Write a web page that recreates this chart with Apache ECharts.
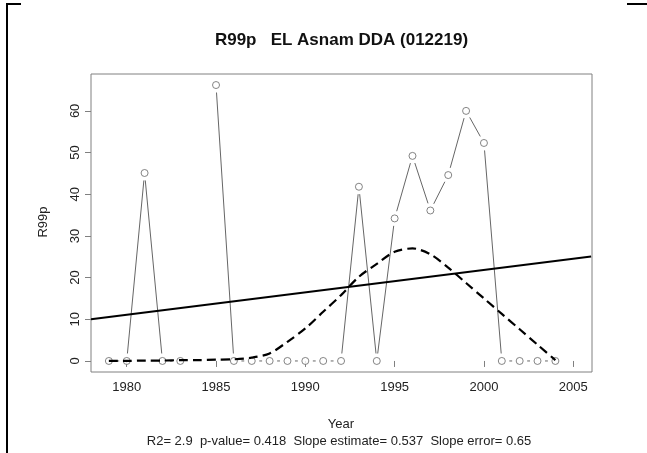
<!DOCTYPE html>
<html>
<head>
<meta charset="utf-8">
<script src="https://cdn.jsdelivr.net/npm/echarts@6/dist/echarts.min.js"></script>
<style>
html,body{margin:0;padding:0;background:#fff;}
#chart{width:647px;height:453px;}
</style>
</head>
<body>
<div id="chart"></div>
<script>
// ---- data ----
const years = [1979,1980,1981,1982,1983,1984,1985,1986,1987,1988,1989,1990,1991,1992,1993,1994,1995,1996,1997,1998,1999,2000,2001,2002,2003,2004];
const r99p = [0,0,45.1,0,0,null,66.2,0,0,0,0,0,0,0,41.8,0,34.2,49.2,36.1,44.6,60.0,52.3,0,0,0,0];
const smoothVals = [0.0,0.0,0.1,0.1,0.2,0.2,0.3,0.4,0.8,1.8,4.6,7.8,11.8,15.8,20.2,23.3,26.2,27.0,25.6,22.4,18.7,15.0,11.3,7.6,3.9,0.2];
const trendX = [1978, 2006];
const trendY = [10.0, 25.04];
const xTicks = [1980,1985,1990,1995,2000,2005];
const yTicks = [0,10,20,30,40,50,60];
const titleText = 'R99p   EL Asnam DDA (012219)';
const xName = 'Year';
const yName = 'R99p';
const statsText = 'R2= 2.9  p-value= 0.418  Slope estimate= 0.537  Slope error= 0.65';

const FONT = '"Liberation Sans", Arial, sans-serif';

const points = [];
years.forEach((y,i)=>{ if(r99p[i]!==null) points.push([y, r99p[i]]); });
const segs = [];
for(let i=0;i<years.length-1;i++){
  if(r99p[i]!==null && r99p[i+1]!==null) segs.push([years[i], r99p[i], years[i+1], r99p[i+1]]);
}
const smoothData = years.map((y,i)=>[y, smoothVals[i]]);
const trendData = trendX.map((x,i)=>[x, trendY[i]]);

const chart = echarts.init(document.getElementById('chart'), null, {renderer:'canvas'});
const GAP = 7.5;
chart.setOption({
  animation:false,
  backgroundColor:'#fff',
  grid:{left:91, top:74, right:55, bottom:81, show:true, borderColor:'#808080', borderWidth:1, backgroundColor:'transparent'},
  xAxis:{
    type:'value', min:1978, max:2006.05,
    axisLine:{show:false},
    splitLine:{show:false},
    axisTick:{show:true, length:6, lineStyle:{color:'#808080'}, customValues:xTicks},
    axisLabel:{color:'#222', fontSize:13, fontFamily:FONT, margin:9, customValues:xTicks, formatter:function(v){return String(v);}}
  },
  yAxis:{
    type:'value', min:-2.65, max:68.85,
    axisLine:{show:false},
    splitLine:{show:false},
    axisTick:{show:true, length:6, lineStyle:{color:'#808080'}, customValues:yTicks},
    axisLabel:{color:'#222', fontSize:13, fontFamily:FONT, margin:9, rotate:90, customValues:yTicks, formatter:function(v){return String(v);}}
  },
  graphic:[
    {type:'text', x:341.5, y:40, style:{text:titleText, font:'bold 17px '+FONT, fill:'#111', textAlign:'center', textVerticalAlign:'middle'}},
    {type:'text', x:341, y:424, style:{text:xName, font:'13px '+FONT, fill:'#222', textAlign:'center', textVerticalAlign:'middle'}},
    {type:'text', x:339, y:441, style:{text:statsText, font:'13px '+FONT, fill:'#222', textAlign:'center', textVerticalAlign:'middle'}},
    {type:'text', x:43, y:222, rotation:Math.PI/2, style:{text:yName, font:'13px '+FONT, fill:'#222', textAlign:'center', textVerticalAlign:'middle'}},
    {type:'line', shape:{x1:7, y1:4, x2:7, y2:453}, style:{stroke:'#000', lineWidth:2}},
    {type:'line', shape:{x1:6, y1:4, x2:21, y2:4}, style:{stroke:'#000', lineWidth:2}},
    {type:'line', shape:{x1:627, y1:4, x2:647, y2:4}, style:{stroke:'#000', lineWidth:2}}
  ],
  series:[
    {
      type:'custom', data:segs, encode:{x:[0,2], y:[1,3]}, silent:true, z:2,
      renderItem:function(params, api){
        const p1 = api.coord([api.value(0), api.value(1)]);
        const p2 = api.coord([api.value(2), api.value(3)]);
        const dx = p2[0]-p1[0], dy = p2[1]-p1[1];
        const len = Math.sqrt(dx*dx+dy*dy);
        if(len <= 2*GAP) return null;
        const ux = dx/len, uy = dy/len;
        return {type:'line', shape:{x1:p1[0]+ux*GAP, y1:p1[1]+uy*GAP, x2:p2[0]-ux*GAP, y2:p2[1]-uy*GAP},
                style:{stroke:'#666', lineWidth:1}};
      }
    },
    {
      type:'scatter', data:points, symbol:'circle', symbolSize:7, z:3,
      itemStyle:{color:'#fff', borderColor:'#666', borderWidth:1}
    },
    {
      type:'line', data:trendData, showSymbol:false, z:4,
      lineStyle:{color:'#000', width:2}
    },
    {
      type:'line', data:smoothData, showSymbol:false, smooth:0.3, z:5,
      lineStyle:{color:'#000', width:2.2, type:[9,5]}
    }
  ]
});
</script>
</body>
</html>
